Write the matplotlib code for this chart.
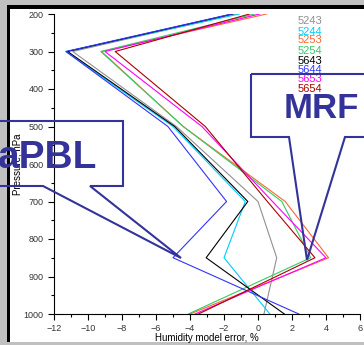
import matplotlib
matplotlib.use("Agg")
import matplotlib.pyplot as plt
from matplotlib.patches import Polygon, Rectangle
from matplotlib.ticker import MultipleLocator

plt.rcParams['font.family'] = ['Liberation Sans', 'DejaVu Sans']

# pressure levels (hPa)
pressure = [200, 300, 500, 700, 850, 1000]

# humidity model error, % per run
runs = ["5243", "5244", "5253", "5254", "5643", "5644", "5653", "5654"]
err_5243 = [-1.3, -10.9, -4.8, 0.0, 1.1, 0.35]
err_5244 = [-1.1, -11.3, -5.0, -0.75, -2.0, 0.7]
err_5253 = [0.5, -9.2, -4.4, 1.6, 4.15, -4.0]
err_5254 = [-0.2, -9.25, -4.4, 1.4, 3.1, -4.1]
err_5643 = [-1.5, -11.2, -4.9, -0.6, -3.05, 1.55]
err_5644 = [-1.55, -11.3, -5.3, -1.85, -5.0, 2.4]
err_5653 = [0.1, -9.0, -3.3, 0.85, 4.0, -3.7]
err_5654 = [-0.5, -8.4, -3.1, 0.55, 3.35, -3.5]
errors = [err_5243, err_5244, err_5253, err_5254, err_5643, err_5644, err_5653, err_5654]
colors = ["#909090", "#00ccff", "#ff6633", "#33cc66", "#000000", "#3333ff", "#ff00ff", "#aa0000"]

W, H = 364, 345
navy = "#333399"

def px(x, y):
    return (x / W, 1 - y / H)

fig = plt.figure(figsize=(W / 100, H / 100), dpi=100)
fig.patch.set_facecolor("#c0c0c0")

# white panel with black frame
x0, y0 = px(7, 342)
fig.patches.append(Rectangle((x0, y0), 1.2, 1 - y0 - 5 / H, transform=fig.transFigure,
                             facecolor="black", edgecolor="none", zorder=-2))
x1, y1 = px(10, 342)
fig.patches.append(Rectangle((x1, y1), 1.2, 1 - y1 - 9 / H, transform=fig.transFigure,
                             facecolor="white", edgecolor="none", zorder=-1))

l, t = px(54, 14)
r, b = px(360, 314)
ax = fig.add_axes([l, b, r - l, t - b])
ax.set_facecolor("none")
ax.set_zorder(1)

for vals, c in zip(errors, colors):
    ax.plot(vals, pressure, color=c, lw=0.8)

ax.set_xlim(-12, 6)
ax.set_ylim(1000, 200)
ax.xaxis.set_major_locator(MultipleLocator(2))
ax.xaxis.set_minor_locator(MultipleLocator(1))
ax.yaxis.set_major_locator(MultipleLocator(100))
ax.yaxis.set_minor_locator(MultipleLocator(50))
ax.spines['top'].set_visible(False)
ax.spines['right'].set_visible(False)
ax.tick_params(which='major', length=4, width=0.8, labelsize=6.5, colors='black', labelcolor='#333333', pad=3.5)
ax.tick_params(which='minor', length=2.5, width=0.8)
ax.set_xlabel("Humidity model error, %", fontsize=7, labelpad=0)
ax.set_ylabel("Pressure, hPa", fontsize=7, labelpad=1)

# run labels
label_y = [21, 32, 40, 51, 61, 70, 79, 88.5]
for name, c, yy in zip(runs, colors, label_y):
    fig.text(*px(298, yy), name, color=c, fontsize=8, va='center', ha='left', zorder=4)

# callouts
pbl = [(-10, 121), (123, 121), (123, 186), (90, 186), (181, 258), (43, 186), (-10, 186)]
mrf = [(251, 74), (372, 74), (372, 137), (345, 137), (307, 260), (289, 137), (251, 137)]
for shape in (pbl, mrf):
    fig.patches.append(Polygon([px(*p) for p in shape], closed=True, transform=fig.transFigure,
                               facecolor="none", edgecolor=navy, lw=1.5, zorder=5))

fig.text(*px(97, 168), "aPBL", color=navy, fontsize=28, fontweight='bold', ha='right', va='baseline', zorder=6)
fig.text(*px(359, 118), "MRF", color=navy, fontsize=25, fontweight='bold', ha='right', va='baseline', zorder=6)

fig.savefig("out.png", dpi=100, facecolor=fig.get_facecolor())
